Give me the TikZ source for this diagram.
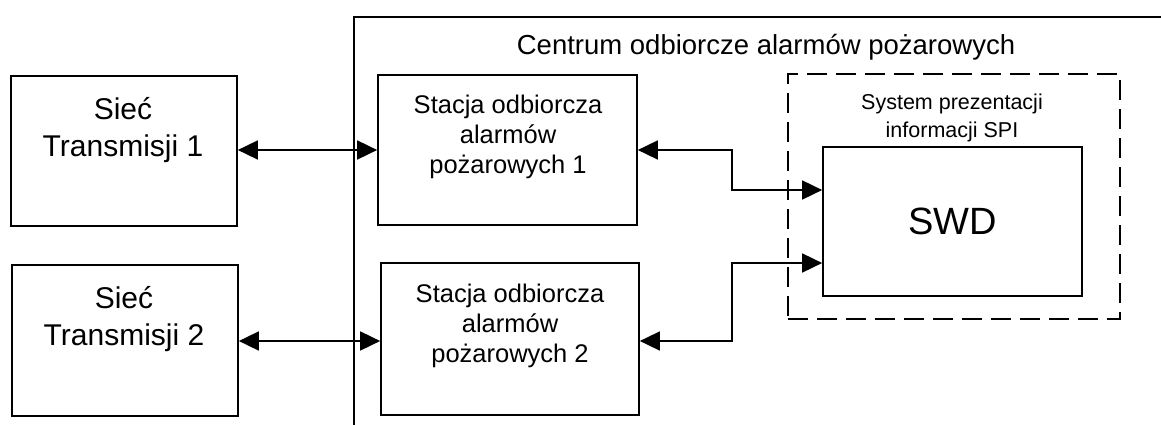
\documentclass[tikz,border=0pt]{standalone}
\usepackage{fontspec}
\setmainfont{Liberation Sans}
\usetikzlibrary{arrows.meta,calc}
\tikzset{
  box/.style={draw, line width=1.7pt, inner sep=0pt},
  dashbox/.style={draw, line width=1.7pt, dash pattern=on 20pt off 9pt, inner sep=0pt},
  frame/.style={draw, line width=1.7pt},
  lbl/.style={inner sep=0pt, align=center, anchor=base},
  conn/.style={line width=1.7pt, {Triangle[length=20pt,width=19pt]}-{Triangle[length=20pt,width=19pt]}},
  bigfont/.style={font=\fontsize{30}{37}\selectfont},
  midfont/.style={font=\fontsize{25.5}{30}\selectfont},
  smallfont/.style={font=\fontsize{21.5}{27.5}\selectfont},
}
\begin{document}
\begin{tikzpicture}[x=1pt,y=-1pt]
\useasboundingbox (0,0) rectangle (1161,425);
% outer frame (open)
\draw[frame] (354,425) -- (354,17) -- (1161,17);
\node[lbl, font=\fontsize{27.5}{31}\selectfont] (ctitle) at (766,55) {Centrum odbiorcze alarmów pożarowych};
% left boxes
\node[box, minimum width=226pt, minimum height=150pt] (s1) at (124,151) {};
\node[lbl, bigfont] (s1t) at (123,157) {Sieć\\Transmisji 1};
\node[box, minimum width=226pt, minimum height=151pt] (s2) at (125,340.5) {};
\node[lbl, bigfont] (s2t) at (124,345) {Sieć\\Transmisji 2};
% stations
\node[box, minimum width=259pt, minimum height=150pt] (st1) at (507.5,150) {};
\node[lbl, midfont] (st1t) at (508,173) {Stacja odbiorcza\\alarmów\\pożarowych 1};
\node[box, minimum width=258pt, minimum height=152pt] (st2) at (510,339) {};
\node[lbl, midfont] (st2t) at (510,362) {Stacja odbiorcza\\alarmów\\pożarowych 2};
% SPI
\node[dashbox, minimum width=332pt, minimum height=245pt] (spi) at (954,196.5) {};
\node[lbl, smallfont] (spit) at (952,137) {System prezentacji\\informacji SPI};
\node[box, minimum width=259pt, minimum height=149pt, font=\fontsize{38}{44}\selectfont] (swd) at (952.5,221.5) {SWD};
% connectors
\draw[conn] (s1.east |- 0,150) -- (st1.west);
\draw[conn] (s2.east |- 0,341) -- (st2.west |- 0,341);
\coordinate (in1) at (swd.west |- 0,190);
\coordinate (in2) at (swd.west |- 0,263);
\draw[conn] (st1.east) -| (732,170) |- (in1);
\draw[conn] (st2.east |- 0,341) -| (732,300) |- (in2);
\end{tikzpicture}
\end{document}
